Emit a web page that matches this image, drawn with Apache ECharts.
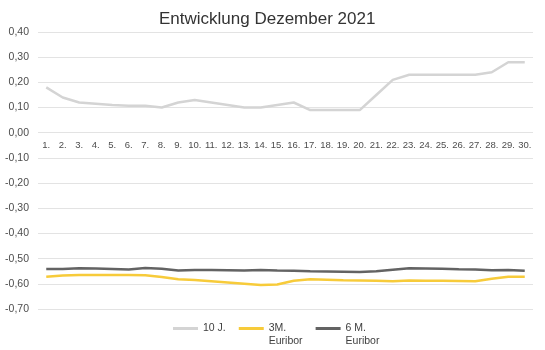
<!DOCTYPE html>
<html><head><meta charset="utf-8">
<script src="https://cdn.jsdelivr.net/npm/echarts@6/dist/echarts.min.js"></script>
<style>html,body{margin:0;padding:0;background:#fff}#c{width:545px;height:350px}</style>
</head><body><div id="c"></div>
<script>
var categories = ['1.','2.','3.','4.','5.','6.','7.','8.','9.','10.','11.','12.','13.','14.','15.','16.','17.','18.','19.','20.','21.','22.','23.','24.','25.','26.','27.','28.','29.','30.'];
var s10J = [0.18,0.14,0.12,0.115,0.11,0.107,0.107,0.10,0.12,0.13,0.12,0.11,0.10,0.10,0.11,0.12,0.09,0.09,0.09,0.09,0.15,0.21,0.23,0.23,0.23,0.23,0.23,0.24,0.28,0.28];
var s3M = [-0.572,-0.567,-0.565,-0.565,-0.565,-0.565,-0.566,-0.573,-0.582,-0.585,-0.59,-0.595,-0.60,-0.605,-0.603,-0.588,-0.582,-0.584,-0.586,-0.587,-0.588,-0.59,-0.587,-0.588,-0.588,-0.589,-0.59,-0.58,-0.572,-0.572];
var s6M = [-0.541,-0.541,-0.538,-0.539,-0.541,-0.543,-0.537,-0.54,-0.547,-0.545,-0.545,-0.546,-0.547,-0.545,-0.547,-0.548,-0.55,-0.551,-0.552,-0.553,-0.55,-0.544,-0.538,-0.539,-0.54,-0.542,-0.543,-0.546,-0.545,-0.548];
var names = ['10 J.','3M.\nEuribor','6 M.\nEuribor'];
var colors = ['#d4d4d4','#f7cb3a','#636363'];
var yMin = -0.7, yMax = 0.4;
var gridTop = 32, gridBottom = 41, chartH = 350;
var zeroOffset = -(chartH - gridTop - gridBottom) * (0 - yMin) / (yMax - yMin);
var chart = echarts.init(document.getElementById('c'));
function fmt(v){return v.toFixed(2).replace('.',',');}
chart.setOption({
  animation:false,
  title:{text:'Entwicklung Dezember 2021',left:159,top:11,padding:0,textStyle:{fontFamily:'Liberation Sans',fontSize:17,fontWeight:'normal',color:'#333333'}},
  grid:{left:38,right:12,top:gridTop,bottom:gridBottom},
  legend:{left:173,top:309,padding:0,itemWidth:25,itemHeight:3,itemGap:13,icon:'rect',
    formatter:function(n){return n.indexOf('\n')>=0 ? ' \n'+n : n;},
    textStyle:{fontFamily:'Liberation Sans',fontSize:10.5,color:'#404040',lineHeight:13},
    data:names},
  xAxis:{type:'category',data:categories,boundaryGap:true,offset:zeroOffset,
    axisLine:{show:false,onZero:false},axisTick:{show:false},
    axisLabel:{interval:0,fontFamily:'Liberation Sans',fontSize:9.5,color:'#4d4d4d',margin:8}},
  yAxis:{type:'value',min:yMin,max:yMax,interval:0.1,
    axisLabel:{formatter:fmt,fontFamily:'Liberation Sans',fontSize:10.5,color:'#4d4d4d',margin:9},
    splitLine:{lineStyle:{color:'#e3e3e3',width:1}}},
  series:[
    {name:names[0],type:'line',data:s10J,symbol:'none',lineStyle:{color:colors[0],width:2.5},itemStyle:{color:colors[0]}},
    {name:names[1],type:'line',data:s3M,symbol:'none',lineStyle:{color:colors[1],width:2.5},itemStyle:{color:colors[1]}},
    {name:names[2],type:'line',data:s6M,symbol:'none',lineStyle:{color:colors[2],width:2.5},itemStyle:{color:colors[2]}}
  ]
});
</script></body></html>
